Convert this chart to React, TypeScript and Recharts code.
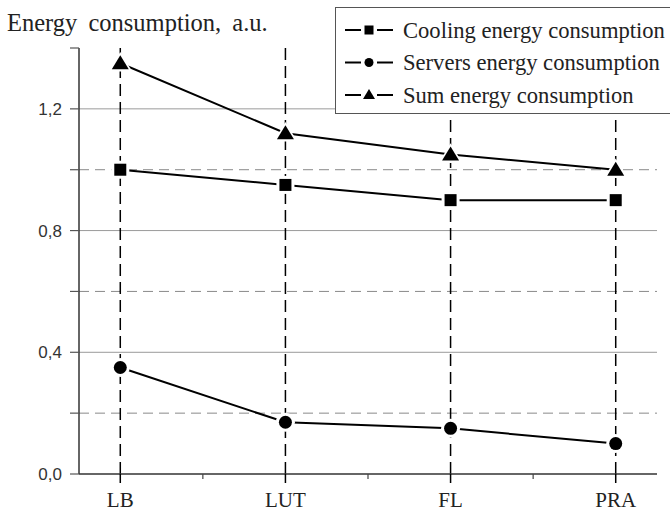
import React from 'react';
import { ComposedChart, Line, XAxis, YAxis, ReferenceLine, Legend } from 'recharts';

const categories = ['LB', 'LUT', 'FL', 'PRA'];
const cooling = [1.0, 0.95, 0.9, 0.9];
const servers = [0.35, 0.17, 0.15, 0.1];
const total = [1.35, 1.12, 1.05, 1.0];
const seriesNames = ['Cooling energy consumption', 'Servers energy consumption', 'Sum energy consumption'];

const yTicks = [0, 0.2, 0.4, 0.6, 0.8, 1.0, 1.2, 1.4];
const yLabelled = [0, 0.4, 0.8, 1.2];
const gridSolid = [0.4, 0.8, 1.2];
const gridDashed = [0.2, 0.6, 1.0];
const xTicks = [0, 0.5, 1, 1.5, 2, 2.5, 3];

const data = categories.map((name, i) => ({
  x: i,
  name,
  cooling: cooling[i],
  servers: servers[i],
  total: total[i],
}));

const SERIF = '"Liberation Serif", "Times New Roman", serif';
const SANS = '"Liberation Sans", Arial, sans-serif';

// markers with a white halo so the line stops short of them
const SquareDot = (props: any) => {
  const { cx, cy } = props;
  if (cx == null || cy == null) return null;
  return (
    <g>
      <rect x={cx - 9} y={cy - 9} width={18} height={18} fill="#fff" />
      <rect x={cx - 6} y={cy - 6} width={12} height={12} fill="#000" />
    </g>
  );
};

const CircleDot = (props: any) => {
  const { cx, cy } = props;
  if (cx == null || cy == null) return null;
  return (
    <g>
      <circle cx={cx} cy={cy} r={9.5} fill="#fff" />
      <circle cx={cx} cy={cy} r={6.5} fill="#000" />
    </g>
  );
};

const triPoints = (cx: number, cy: number, s: number) =>
  `${cx},${cy - 8 * s} ${cx - 8.5 * s},${cy + 6 * s} ${cx + 8.5 * s},${cy + 6 * s}`;

const TriangleDot = (props: any) => {
  const { cx, cy } = props;
  if (cx == null || cy == null) return null;
  return (
    <g>
      <polygon points={triPoints(cx, cy, 1.4)} fill="#fff" />
      <polygon points={triPoints(cx, cy, 1)} fill="#000" />
    </g>
  );
};

const XTick = (props: any) => {
  const { x, y, payload } = props;
  const v = payload.value;
  if (!Number.isInteger(v)) {
    return <line x1={x} y1={y} x2={x} y2={y + 5} stroke="#444" strokeWidth={1.2} />;
  }
  return (
    <g>
      <line x1={x} y1={y} x2={x} y2={y + 9} stroke="#000" strokeWidth={1.5} />
      <text x={x} y={y + 33} textAnchor="middle" fontFamily={SERIF} fontSize={21} fill="#222">
        {categories[v]}
      </text>
    </g>
  );
};

const YTick = (props: any) => {
  const { x, y, payload } = props;
  const v = payload.value;
  const labelled = yLabelled.some((t) => Math.abs(t - v) < 1e-6);
  return (
    <g>
      <line x1={x - 9} y1={y} x2={x} y2={y} stroke="#555" strokeWidth={1.2} />
      {labelled && (
        <text x={x - 17} y={y} dy="0.36em" textAnchor="end" fontFamily={SANS} fontSize={17} fill="#333">
          {v.toFixed(1).replace('.', ',')}
        </text>
      )}
    </g>
  );
};

const LegendMarker = ({ kind, cx, cy }: { kind: number; cx: number; cy: number }) => {
  if (kind === 0) return <rect x={cx - 4.5} y={cy - 4.5} width={9} height={9} fill="#000" />;
  if (kind === 1) return <circle cx={cx} cy={cy} r={4.5} fill="#000" />;
  return <polygon points={`${cx},${cy - 6} ${cx - 6},${cy + 4} ${cx + 6},${cy + 4}`} fill="#000" />;
};

const LegendBox = () => (
  <div
    style={{
      width: 345,
      height: 107,
      border: '1.5px solid #555',
      background: '#fff',
      boxSizing: 'border-box',
    }}
  >
    <svg width={345} height={104} style={{ display: 'block' }}>
      {seriesNames.map((name, i) => {
        const cy = 22 + i * 32.5;
        return (
          <g key={name}>
            <line x1={9} y1={cy} x2={25} y2={cy} stroke="#000" strokeWidth={2} />
            <line x1={41} y1={cy} x2={57} y2={cy} stroke="#000" strokeWidth={2} />
            <LegendMarker kind={i} cx={33} cy={cy} />
            <text x={67} y={cy + 7.5} fontFamily={SERIF} fontSize={22.6} fill="#222">
              {name}
            </text>
          </g>
        );
      })}
    </svg>
  </div>
);

export default function App() {
  return (
    <div
      style={{
        position: 'absolute',
        left: 0,
        top: 0,
        width: 670,
        height: 511,
        background: '#fff',
        overflow: 'hidden',
      }}
    >
      <ComposedChart width={670} height={511} data={data} margin={{ top: 48, right: 13, left: 0, bottom: 0 }}>
        {gridSolid.map((v) => (
          <ReferenceLine key={`gs-${v}`} y={v} stroke="#9a9a9a" strokeWidth={1} />
        ))}
        {gridDashed.map((v) => (
          <ReferenceLine key={`gd-${v}`} y={v} stroke="#8a8a8a" strokeWidth={1} strokeDasharray="10 6" />
        ))}
        {categories.map((c, i) => (
          <ReferenceLine key={`v-${c}`} x={i} stroke="#000" strokeWidth={1.5} strokeDasharray="12 6" />
        ))}
        <XAxis
          dataKey="x"
          type="number"
          domain={[-0.25, 3.25]}
          ticks={xTicks}
          interval={0}
          height={37}
          tickSize={0}
          tickMargin={0}
          tick={<XTick />}
          axisLine={{ stroke: '#333', strokeWidth: 1.5 }}
          tickLine={false}
        />
        <YAxis
          type="number"
          domain={[0, 1.4]}
          ticks={yTicks}
          interval={0}
          width={79}
          tickSize={0}
          tickMargin={0}
          tick={<YTick />}
          axisLine={{ stroke: '#333', strokeWidth: 1.5 }}
          tickLine={false}
        />
        <Legend
          layout="vertical"
          align="center"
          verticalAlign="middle"
          wrapperStyle={{ left: 335, top: 7, width: 345 }}
          content={<LegendBox />}
        />
        <Line
          dataKey="cooling"
          name={seriesNames[0]}
          type="linear"
          stroke="#000"
          strokeWidth={2}
          dot={<SquareDot />}
          activeDot={false}
          isAnimationActive={false}
        />
        <Line
          dataKey="servers"
          name={seriesNames[1]}
          type="linear"
          stroke="#000"
          strokeWidth={2}
          dot={<CircleDot />}
          activeDot={false}
          isAnimationActive={false}
        />
        <Line
          dataKey="total"
          name={seriesNames[2]}
          type="linear"
          stroke="#000"
          strokeWidth={2}
          dot={<TriangleDot />}
          activeDot={false}
          isAnimationActive={false}
        />
      </ComposedChart>
      <svg width={300} height={45} style={{ position: 'absolute', left: 0, top: 0, pointerEvents: 'none' }}>
        <text x={7} y={31} fontFamily={SERIF} fontSize={24.5} wordSpacing={5} fill="#222">
          Energy consumption, a.u.
        </text>
      </svg>
    </div>
  );
}
